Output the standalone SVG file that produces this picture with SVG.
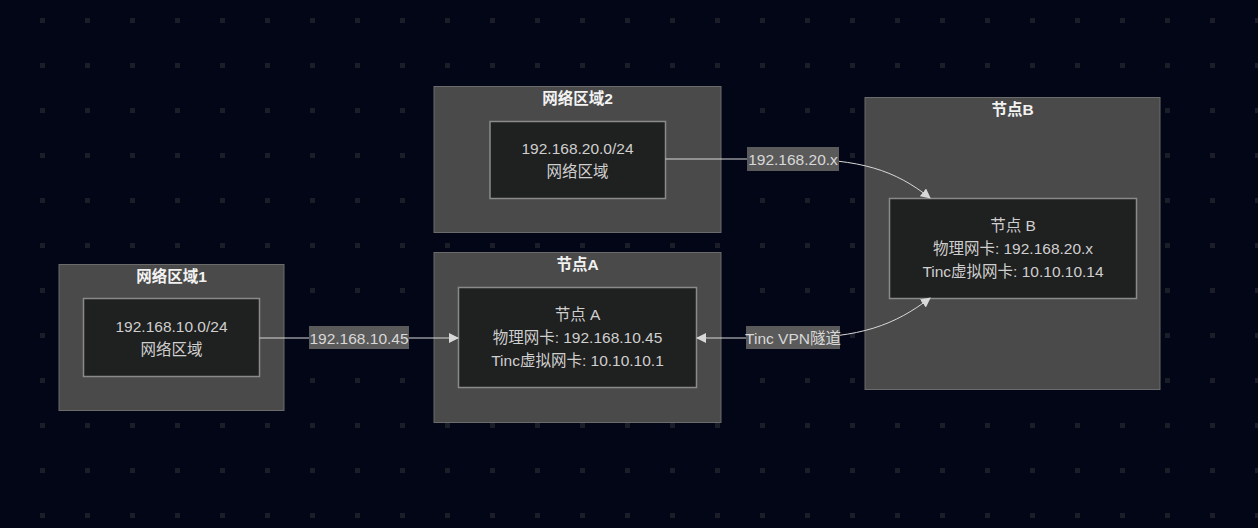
<svg xmlns="http://www.w3.org/2000/svg" width="1258" height="528" viewBox="0 0 1258 528">
<defs>
<pattern id="dots" x="40" y="18" width="45" height="45" patternUnits="userSpaceOnUse">
<rect x="0" y="0" width="5" height="5" fill="#1b1e28"/>
</pattern>
<marker id="arr" viewBox="0 0 10 10" refX="9" refY="5" markerWidth="10" markerHeight="10" markerUnits="userSpaceOnUse" orient="auto-start-reverse">
<path d="M0,0 L10,5 L0,10 z" fill="#d8d8d8"/>
</marker>
<style>
.cl{fill:#4a4a4a;stroke:#6b6b6b;stroke-width:1}
.nd{fill:#1f2020;stroke:#8a8a8a;stroke-width:1.5}
.ct{font-family:"Liberation Sans","Noto Sans CJK SC",sans-serif;font-size:15.5px;font-weight:bold;fill:#f2f2f2;text-anchor:middle}
.tx{font-family:"Liberation Sans","Noto Sans CJK SC",sans-serif;font-size:15.5px;fill:#cfcfcf;text-anchor:middle}
.ed{fill:none;stroke:#d8d8d8;stroke-width:1}
.lb{fill:#5a5a5a}
.lt{font-family:"Liberation Sans","Noto Sans CJK SC",sans-serif;font-size:15.5px;fill:#d8d8d8;text-anchor:middle}
</style>
</defs>
<rect width="1258" height="528" fill="#020617"/>
<rect width="1258" height="528" fill="url(#dots)"/>

<g id="cluster-zone1">
<rect class="cl" x="59" y="264.5" width="225" height="146"/>
<text class="ct" x="171.5" y="282">网络区域1</text>
</g>
<g id="cluster-zone2">
<rect class="cl" x="434" y="86.5" width="287" height="146"/>
<text class="ct" x="577.5" y="104">网络区域2</text>
</g>
<g id="cluster-nodeA">
<rect class="cl" x="434" y="252.5" width="287" height="170"/>
<text class="ct" x="577.5" y="270">节点A</text>
</g>
<g id="cluster-nodeB">
<rect class="cl" x="865" y="97.5" width="295" height="292"/>
<text class="ct" x="1012.5" y="115">节点B</text>
</g>

<g id="node-net1">
<rect class="nd" x="83.5" y="298.5" width="176" height="78"/>
<text class="tx" x="171.5" y="332">192.168.10.0/24</text>
<text class="tx" x="171.5" y="355">网络区域</text>
</g>
<g id="node-net2">
<rect class="nd" x="490" y="121.5" width="175.5" height="77"/>
<text class="tx" x="577.5" y="154">192.168.20.0/24</text>
<text class="tx" x="577.5" y="177">网络区域</text>
</g>
<g id="node-A">
<rect class="nd" x="458.5" y="287.5" width="238" height="100"/>
<text class="tx" x="577.5" y="320">节点 A</text>
<text class="tx" x="577.5" y="343">物理网卡: 192.168.10.45</text>
<text class="tx" x="577.5" y="366">Tinc虚拟网卡: 10.10.10.1</text>
</g>
<g id="node-B">
<rect class="nd" x="889.5" y="198.5" width="247" height="100"/>
<text class="tx" x="1013" y="231">节点 B</text>
<text class="tx" x="1013" y="254">物理网卡: 192.168.20.x</text>
<text class="tx" x="1013" y="277">Tinc虚拟网卡: 10.10.10.14</text>
</g>

<g id="connectors">
<path class="ed" d="M259.5,338 L458,338" marker-end="url(#arr)"/>
<rect class="lb" x="309" y="326" width="100" height="23"/>
<text class="lt" x="359" y="343.5">192.168.10.45</text>

<path class="ed" d="M665.5,159 L793,159 C860,159 895,170 930,198" marker-end="url(#arr)"/>
<rect class="lb" x="747" y="147" width="92" height="24"/>
<text class="lt" x="793" y="164.5">192.168.20.x</text>

<path class="ed" d="M697,338 L793,338 C860,338 895,325 930,298" marker-start="url(#arr)" marker-end="url(#arr)"/>
<rect class="lb" x="746" y="326" width="94" height="23"/>
<text class="lt" x="793" y="343.5">Tinc VPN隧道</text>
</g>
</svg>
